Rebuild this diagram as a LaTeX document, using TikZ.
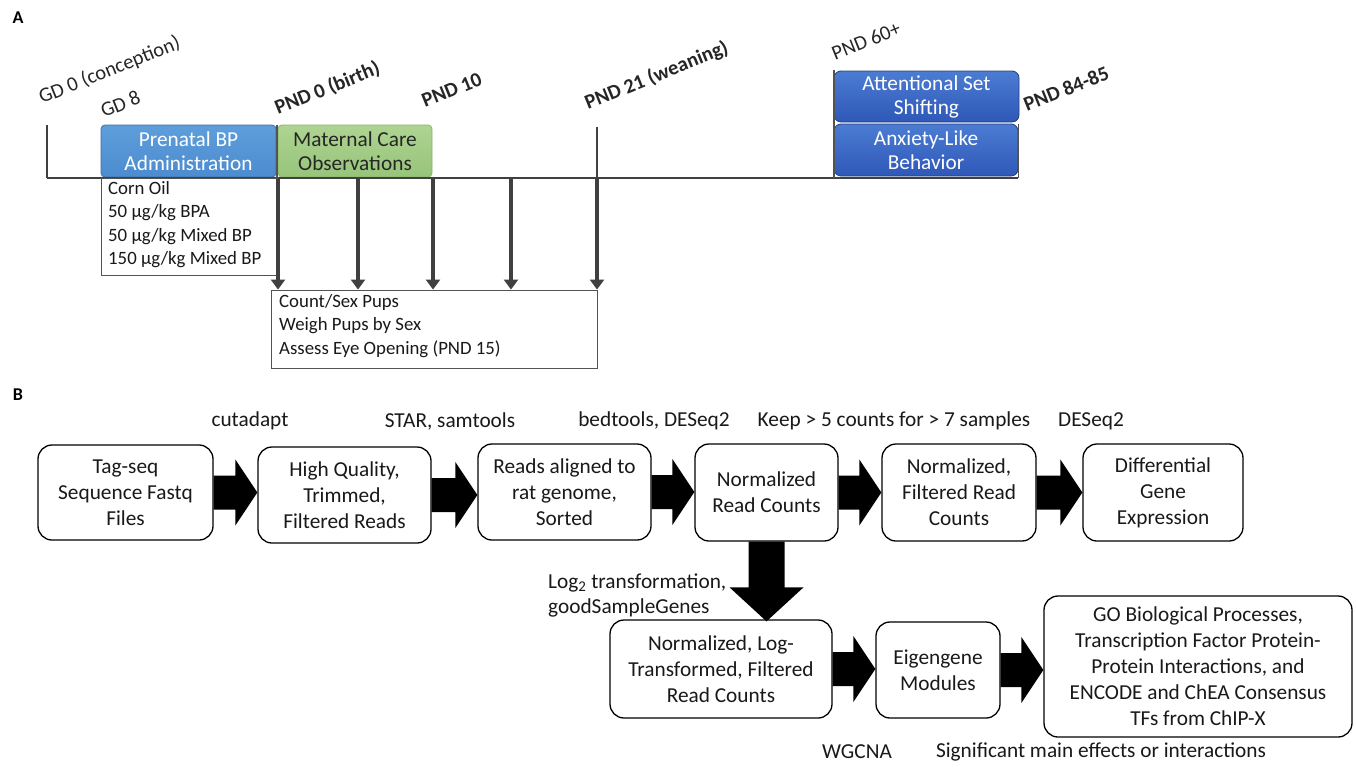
\documentclass[tikz,border=0pt]{standalone}
\usepackage{fontspec}
\setmainfont{Carlito}
\usetikzlibrary{arrows.meta,calc}
\definecolor{tl}{HTML}{404040}
\definecolor{bpa}{HTML}{5E9EDB}
\definecolor{bpb}{HTML}{4C8CCF}
\definecolor{bpe}{HTML}{3E6EA6}
\definecolor{gra}{HTML}{AED491}
\definecolor{grb}{HTML}{97C47B}
\definecolor{gre}{HTML}{86B36A}
\definecolor{dba}{HTML}{4B7CD2}
\definecolor{dbb}{HTML}{2F58B8}
\definecolor{dbe}{HTML}{243F80}
\tikzset{
  fbox/.style={draw=black, line width=1.3pt, rounded corners=14pt, align=center, inner sep=0pt,
    font=\fontsize{21.3}{26}\selectfont, text=black!90},
  lab/.style={font=\fontsize{21.3}{25}\selectfont, inner sep=0pt, text=black!90},
  rlab/.style={font=\fontsize{20.5}{22}\selectfont, inner sep=0pt, anchor=base west, rotate=22, text=black!85},
  rbold/.style={rlab, font=\fontsize{20.5}{22}\selectfont\bfseries},
  tbox/.style={rounded corners=4pt, align=center, inner sep=0pt, font=\fontsize{21.3}{24}\selectfont},
  listtxt/.style={align=left, inner sep=0pt, anchor=north west, font=\fontsize{18.8}{23.5}\selectfont, text=black!90},
  thin/.style={draw=tl!90, line width=0.9pt},
  darr/.style={draw=tl, line width=4.5pt, -{Triangle[width=14pt,length=10pt]}},
  tline/.style={draw=tl, line width=2.2pt},
  panel/.style={font=\fontsize{18}{22}\selectfont\bfseries, inner sep=0pt}
}
\newcommand{\harrow}[2]{\fill let \p1=(#1.east), \p2=(#2.west) in
  (\x1,\y1+17pt) -- (\x2-22pt,\y1+17pt) -- (\x2-22pt,\y1+33pt) -- (\x2,\y1) --
  (\x2-22pt,\y1-33pt) -- (\x2-22pt,\y1-17pt) -- (\x1,\y1-17pt) -- cycle;}
\begin{document}
\begin{tikzpicture}[x=1pt,y=-1pt]
\useasboundingbox[fill=white] (0,0) rectangle (1356,766);

% ---------------- Panel A ----------------
\node[panel] (pA) at (18,18) {A};

% boxes on timeline
\node[tbox, draw=bpe, line width=0.8pt, top color=bpa, bottom color=bpb, text=white,
  minimum width=175pt, minimum height=52pt] (prenatal) at (188.5,151) {Prenatal BP\\Administration};
\node[tbox, draw=gre, line width=0.8pt, top color=gra, bottom color=grb, text=black!85,
  minimum width=154pt, minimum height=52pt] (maternal) at (355,151) {Maternal Care\\Observations};
\node[tbox, rounded corners=7pt, draw=dbe, line width=0.8pt, top color=dba, bottom color=dbb, text=white,
  minimum width=185pt, minimum height=51pt] (attn) at (926.5,96.5) {Attentional Set\\Shifting};
\node[tbox, rounded corners=7pt, draw=dbe, line width=0.8pt, top color=dba, bottom color=dbb, text=white,
  minimum width=184pt, minimum height=52pt] (anx) at (926,150) {Anxiety-Like\\Behavior};

% timeline
\coordinate (tl0) at (47,178);
\coordinate (tl1) at (1018,178);
\draw[tline] (tl0) -- (tl1);
\draw[tline] (47,125) -- (tl0);
\draw[thin, line width=1.4pt] (277,125) -- (277,178);
\draw[tline] (597,127) -- (597,178);
\draw[thin, line width=1.4pt] (834,70) -- (834,178);
\draw[thin, line width=1pt] (1018,124) -- (tl1);

% rotated labels
\node[rlab] (gd0) at (42,104) {GD 0 (conception)};
\node[rlab] (gd8) at (104,118) {GD 8};
\node[rbold] (pnd0) at (278,115) {PND 0 (birth)};
\node[rbold] (pnd10) at (425,108) {PND 10};
\node[rbold] (pnd21) at (588,110) {PND 21 (weaning)};
\node[rlab] (pnd60) at (835,61) {PND 60+};
\node[rbold] (pnd84) at (1027,112) {PND 84-85};

% dose box
\draw[thin] (101,178) rectangle (277,275);
\node[listtxt] (doses) at (108,181) {Corn Oil\\50 µg/kg BPA\\50 µg/kg Mixed BP\\150 µg/kg Mixed BP};

% measurements box
\node[draw=tl!90, line width=0.9pt, minimum width=326pt, minimum height=78pt, inner sep=0pt] (cnt) at (434,329) {};
\node[listtxt] (cnttxt) at (279,294) {Count/Sex Pups\\Weigh Pups by Sex\\Assess Eye Opening (PND 15)};

\foreach \i/\xx in {1/278,2/358,3/433,4/511,5/597}{
  \coordinate (d\i) at (\xx,179);
  \draw[darr] (d\i) -- (d\i |- cnt.north);
}

% ---------------- Panel B ----------------
\node[panel] (pB) at (18,395) {B};

\node[fbox, minimum width=175pt, minimum height=95pt] (n1) at (125.5,492.5) {Tag-seq\\Sequence Fastq\\Files};
\node[fbox, minimum width=173pt, minimum height=96pt] (n2) at (344.5,495) {High Quality,\\Trimmed,\\Filtered Reads};
\node[fbox, minimum width=173pt, minimum height=96pt] (n3) at (564.5,492) {Reads aligned to\\rat genome,\\Sorted};
\node[fbox, minimum width=143pt, minimum height=97pt] (n4) at (766.5,492.5) {Normalized\\Read Counts};
\node[fbox, minimum width=154pt, minimum height=97pt] (n5) at (959,492.5) {Normalized,\\Filtered Read\\Counts};
\node[fbox, minimum width=160pt, minimum height=97pt] (n6) at (1163,492.5) {Differential\\Gene\\Expression};
\node[fbox, minimum width=222pt, minimum height=98pt] (n7) at (721,669) {Normalized, Log-\\Transformed, Filtered\\Read Counts};
\node[fbox, minimum width=124pt, minimum height=96pt] (n8) at (938,670) {Eigengene\\Modules};
\node[fbox, minimum width=308pt, minimum height=141pt] (n9) at (1198,666.5) {GO Biological Processes,\\Transcription Factor Protein-\\Protein Interactions, and\\ENCODE and ChEA Consensus\\TFs from ChIP-X};

\node[lab] (l1) at (250,421) {cutadapt};
\node[lab] (l2) at (450,421) {STAR, samtools};
\node[lab] (l3) at (654,421) {bedtools, DESeq2};
\node[lab] (l4) at (894,421) {Keep > 5 counts for > 7 samples};
\node[lab] (l5) at (1091,421) {DESeq2};
\node[lab, align=left, anchor=west, font=\fontsize{21.3}{25}\selectfont] (l6) at (548,595.5) {Log\textsubscript{2} transformation,\\goodSampleGenes};
\node[lab] (l7) at (857,752) {WGCNA};
\node[lab] (l8) at (1101,752) {Significant main effects or interactions};

\harrow{n1}{n2}
\harrow{n2}{n3}
\harrow{n3}{n4}
\harrow{n4}{n5}
\harrow{n5}{n6}
\harrow{n7}{n8}
\harrow{n8}{n9}

\fill let \p1=(n4.south), \p2=(n7.north) in
  (\x1-18pt,\y1) -- (\x1-18pt,\y2+32pt) -- (\x1-37pt,\y2+32pt) -- (\x1,\y2-2pt) --
  (\x1+37pt,\y2+32pt) -- (\x1+18pt,\y2+32pt) -- (\x1+18pt,\y1) -- cycle;
\end{tikzpicture}
\end{document}
